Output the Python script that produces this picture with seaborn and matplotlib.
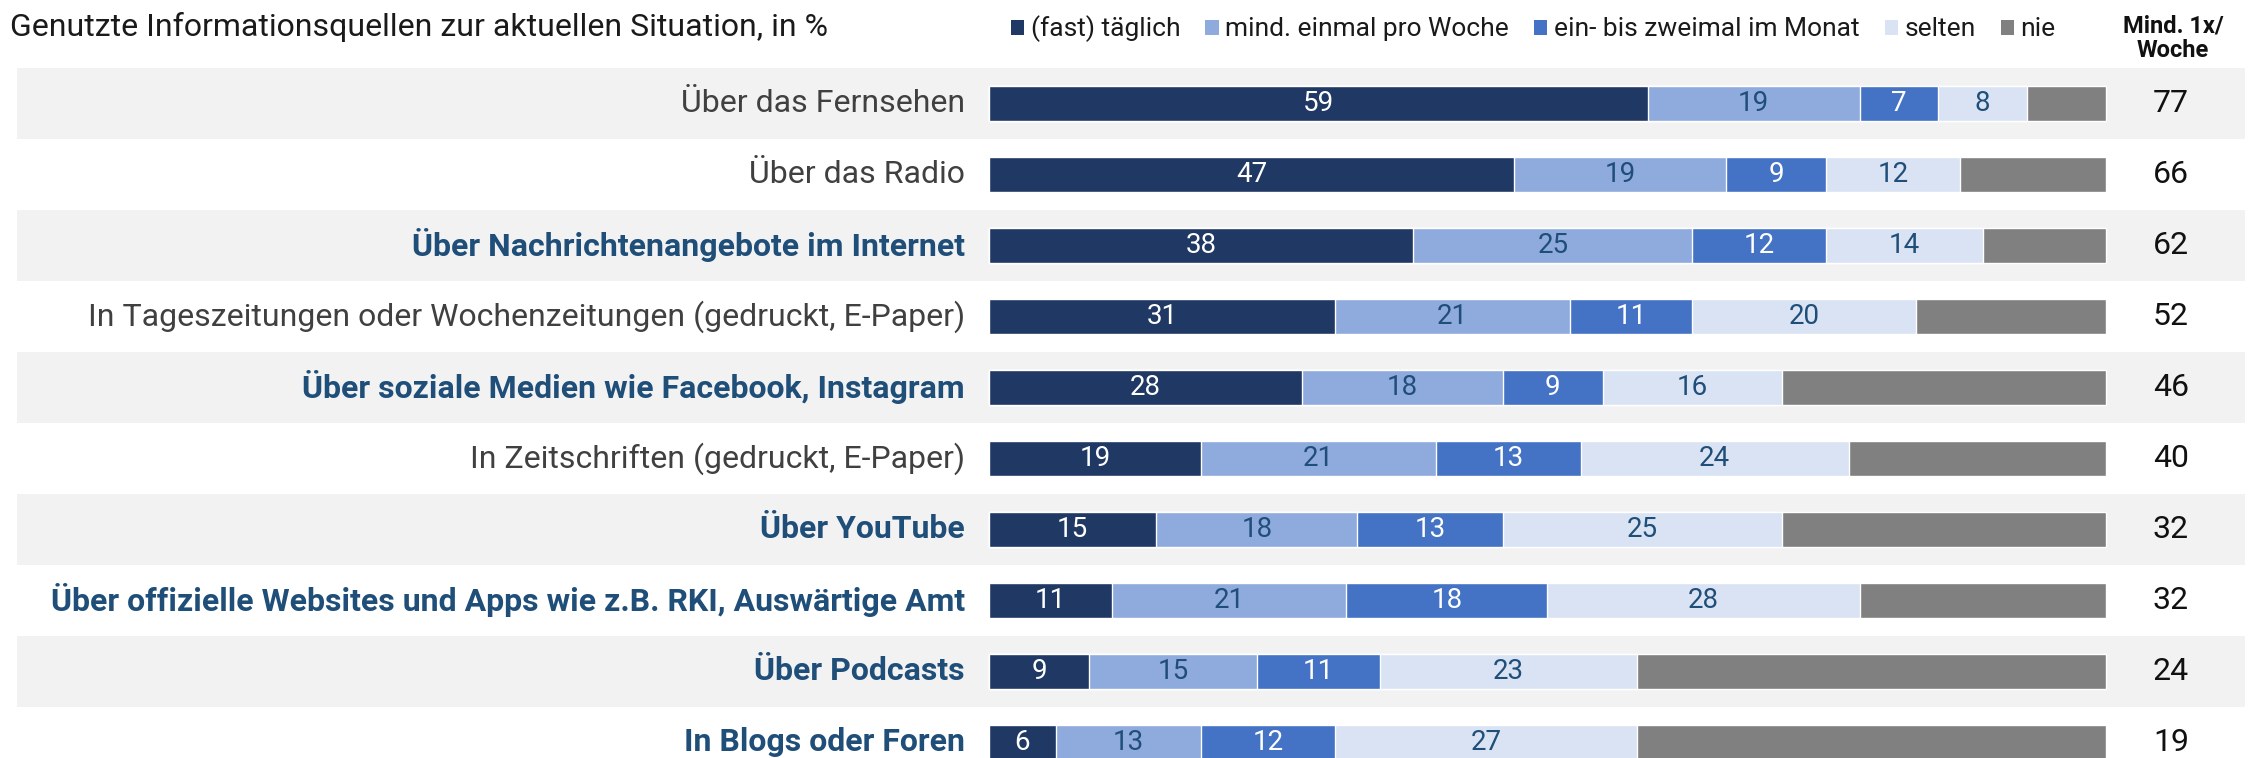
import numpy as np
import pandas as pd
import matplotlib
matplotlib.use("Agg")
import matplotlib.pyplot as plt
import matplotlib.transforms as mtransforms
from matplotlib.patches import Patch
import seaborn as sns

# ---------------- data ----------------
categories = [
    "Über das Fernsehen",
    "Über das Radio",
    "Über Nachrichtenangebote im Internet",
    "In Tageszeitungen oder Wochenzeitungen (gedruckt, E-Paper)",
    "Über soziale Medien wie Facebook, Instagram",
    "In Zeitschriften (gedruckt, E-Paper)",
    "Über YouTube",
    "Über offizielle Websites und Apps wie z.B. RKI, Auswärtige Amt",
    "Über Podcasts",
    "In Blogs oder Foren",
]
highlight = [False, False, True, False, True, False, True, True, True, True]

taeglich = [59, 47, 38, 31, 28, 19, 15, 11, 9, 6]
woche = [19, 19, 25, 21, 18, 21, 18, 21, 15, 13]
monat = [7, 9, 12, 11, 9, 13, 13, 18, 11, 12]
selten = [8, 12, 14, 20, 16, 24, 25, 28, 23, 27]
nie = [7, 13, 11, 17, 29, 23, 29, 22, 42, 42]
mind_woche = [77, 66, 62, 52, 46, 40, 32, 32, 24, 19]

series_names = ["(fast) täglich", "mind. einmal pro Woche",
                "ein- bis zweimal im Monat", "selten", "nie"]
series_values = [taeglich, woche, monat, selten, nie]
colors = ["#203864", "#8FAADC", "#4472C4", "#DAE3F3", "#808080"]
value_colors = ["white", "#1F4E79", "white", "#1F4E79", None]

title = "Genutzte Informationsquellen zur aktuellen Situation, in %"
right_header = "Mind. 1x/\nWoche"

# ---------------- build table ----------------
rows = []
for s, vals in zip(series_names, series_values):
    for c, v in zip(categories, vals):
        rows.append({"category": c, "series": s, "value": v})
df = pd.DataFrame(rows)
df["series"] = pd.Categorical(df["series"], series_names, ordered=True)
df["category"] = pd.Categorical(df["category"], categories, ordered=True)
df = df.sort_values(["category", "series"])
df["cum"] = df.groupby("category", observed=True)["value"].cumsum()
df["start"] = df["cum"] - df["value"]

# ---------------- style ----------------
sns.set_theme(style="white")
plt.rcParams["font.family"] = ["Roboto", "DejaVu Sans"]

W, H = 2249, 758
fig = plt.figure(figsize=(W / 100, H / 100), dpi=100)
ax = fig.add_axes([0, 0, 1, 1])

# pixel layout
bar_left_px, bar_right_px = 989, 2105.5
px_per_unit = (bar_right_px - bar_left_px) / 100.0
row0_px, row_step_px = 103.3, 71.0

# stacked bars: draw cumulative totals from the largest down
for s, col in reversed(list(zip(series_names, colors))):
    sub = df[df["series"] == s]
    sns.barplot(data=sub, x="cum", y="category", order=categories,
                color=col, saturation=1, width=0.49, orient="h",
                ax=ax, zorder=2)

n = len(categories)
ax.set_xlim(-bar_left_px / px_per_unit, (W - bar_left_px) / px_per_unit)
ax.set_ylim((H - row0_px) / row_step_px, -row0_px / row_step_px)
ax.axis("off")

# background bands
for i in range(0, n, 2):
    ax.axhspan(i - 0.5, i + 0.5, xmin=17 / W, xmax=2245 / W,
               color="#F2F2F2", zorder=0, lw=0)

# segment labels
for _, r in df.iterrows():
    si = series_names.index(r["series"])
    if value_colors[si] is None:
        continue
    yi = categories.index(r["category"])
    ax.text(r["start"] + r["value"] / 2, yi, f"{r['value']:d}",
            ha="center", va="center", fontsize=20,
            color=value_colors[si], zorder=3)

# category labels and right column
trans = mtransforms.blended_transform_factory(fig.transFigure, ax.transData)
for i, (c, hl) in enumerate(zip(categories, highlight)):
    ax.text(965 / W, i, c, transform=trans, ha="right", va="center",
            fontsize=23, fontweight="bold" if hl else "normal",
            color="#1F4E79" if hl else "#404040")
    ax.text(2171 / W, i, str(mind_woche[i]), transform=trans,
            ha="center", va="center", fontsize=23, color="#111111")

# title, header, legend
fig.text(10 / W, 1 - 27 / H, title, ha="left", va="center",
         fontsize=23, color="#1a1a1a")
fig.text(2173 / W, 1 - 38 / H, right_header, ha="center", va="center",
         fontsize=17, fontweight="bold", color="#111111",
         linespacing=1.1)

handles = [Patch(facecolor=c, edgecolor="none") for c in colors]
fig.legend(handles, series_names, loc="center left",
           bbox_to_anchor=(1011 / W, 1 - 29 / H), ncol=5, frameon=False,
           fontsize=19, handlelength=0.5, handleheight=0.5,
           handletextpad=0.25, columnspacing=0.95, borderpad=0,
           borderaxespad=0, labelcolor="#1a1a1a")

fig.savefig("out.png", dpi=100)
